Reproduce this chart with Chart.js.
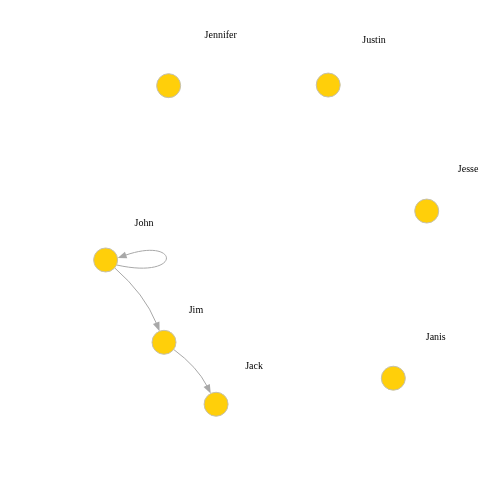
<!DOCTYPE html>
<html>
<head>
<meta charset="utf-8">
<script src="https://cdn.jsdelivr.net/npm/chart.js@4"></script>
<style>
  html, body { margin: 0; padding: 0; background: #fff; }
  #wrap { width: 504px; height: 504px; }
</style>
</head>
<body>
<div id="wrap"><canvas id="net"></canvas></div>
<script>
// layout coordinates (plot spans -1.2 .. 1.2 both ways)
const nodeNames = ['Jennifer', 'Justin', 'Jesse', 'John', 'Jim', 'Jack', 'Janis'];
const nodeX = [-0.397, 0.363, 0.832, -0.697, -0.419, -0.171, 0.673];
const nodeY = [0.792, 0.795, 0.195, -0.038, -0.430, -0.725, -0.601];
const labelX = [-0.149, 0.581, 1.029, -0.514, -0.267, 0.010, 0.875];
const labelY = [1.033, 1.010, 0.395, 0.138, -0.276, -0.543, -0.405];

// directed edges
const edgeFrom = ['John', 'John', 'Jim'];
const edgeTo = ['John', 'Jim', 'Jack'];

const nodeRadius = 12;
const edgeColor = '#a8a8a8';

function drawArrowHead(ctx, tip, ang) {
    const len = 9, half = 3.5;
    ctx.beginPath();
    ctx.moveTo(tip.x, tip.y);
    ctx.lineTo(tip.x - len * Math.cos(ang) + half * Math.sin(ang), tip.y - len * Math.sin(ang) - half * Math.cos(ang));
    ctx.lineTo(tip.x - len * Math.cos(ang) - half * Math.sin(ang), tip.y - len * Math.sin(ang) + half * Math.cos(ang));
    ctx.closePath();
    ctx.fill();
}

const edgePlugin = {
    id: 'edges',
    beforeDatasetsDraw(chart) {
        const ctx = chart.ctx;
        const xs = chart.scales.x, ys = chart.scales.y;
        const pos = name => {
            const i = nodeNames.indexOf(name);
            return { x: xs.getPixelForValue(nodeX[i]), y: ys.getPixelForValue(nodeY[i]) };
        };
        ctx.save();
        ctx.strokeStyle = edgeColor;
        ctx.fillStyle = edgeColor;
        ctx.lineWidth = 1;
        edgeFrom.forEach((f, k) => {
            const a = pos(f), b = pos(edgeTo[k]);
            if (f === edgeTo[k]) {
                // self loop to the right
                const s = { x: a.x + 11, y: a.y + 5 };
                const c1 = { x: a.x + 78, y: a.y + 20 };
                const c2 = { x: a.x + 74, y: a.y - 24 };
                const tip = { x: a.x + nodeRadius, y: a.y - 2 };
                const ang = Math.atan2(tip.y - c2.y, tip.x - c2.x);
                const base = { x: tip.x - 8 * Math.cos(ang), y: tip.y - 8 * Math.sin(ang) };
                ctx.beginPath();
                ctx.moveTo(s.x, s.y);
                ctx.bezierCurveTo(c1.x, c1.y, c2.x, c2.y, base.x, base.y);
                ctx.stroke();
                drawArrowHead(ctx, tip, ang);
                return;
            }
            const dx = b.x - a.x, dy = b.y - a.y;
            const k2 = 0.12;
            const c = { x: (a.x + b.x) / 2 + k2 * dy, y: (a.y + b.y) / 2 - k2 * dx };
            const u0 = Math.hypot(c.x - a.x, c.y - a.y);
            const s = { x: a.x + nodeRadius * (c.x - a.x) / u0, y: a.y + nodeRadius * (c.y - a.y) / u0 };
            const u1 = Math.hypot(c.x - b.x, c.y - b.y);
            const tip = { x: b.x + nodeRadius * (c.x - b.x) / u1, y: b.y + nodeRadius * (c.y - b.y) / u1 };
            const ang = Math.atan2(b.y - c.y, b.x - c.x);
            const base = { x: tip.x - 8 * Math.cos(ang), y: tip.y - 8 * Math.sin(ang) };
            ctx.beginPath();
            ctx.moveTo(s.x, s.y);
            ctx.quadraticCurveTo(c.x, c.y, base.x, base.y);
            ctx.stroke();
            drawArrowHead(ctx, tip, ang);
        });
        ctx.restore();
    },
    afterDatasetsDraw(chart) {
        const ctx = chart.ctx;
        const xs = chart.scales.x, ys = chart.scales.y;
        ctx.save();
        ctx.fillStyle = '#000';
        ctx.font = '10px "Liberation Serif", "DejaVu Serif", serif';
        ctx.textAlign = 'center';
        ctx.textBaseline = 'middle';
        nodeNames.forEach((n, i) => {
            ctx.fillText(n, xs.getPixelForValue(labelX[i]), ys.getPixelForValue(labelY[i]));
        });
        ctx.restore();
    }
};

const chart = new Chart(document.getElementById('net'), {
    type: 'scatter',
    data: {
        datasets: [{
            data: nodeNames.map((n, i) => ({ x: nodeX[i], y: nodeY[i] })),
            pointRadius: nodeRadius,
            pointHoverRadius: nodeRadius,
            backgroundColor: '#ffcf0a',
            borderColor: '#c4c0b0',
            borderWidth: 1
        }]
    },
    options: {
        responsive: true,
        maintainAspectRatio: false,
        animation: false,
        layout: { padding: 0, autoPadding: false },
        plugins: { legend: { display: false }, tooltip: { enabled: false } },
        scales: {
            x: { type: 'linear', min: -1.2, max: 1.2, display: false },
            y: { type: 'linear', min: -1.2, max: 1.2, display: false }
        }
    },
    plugins: [edgePlugin]
});
</script>
</body>
</html>
